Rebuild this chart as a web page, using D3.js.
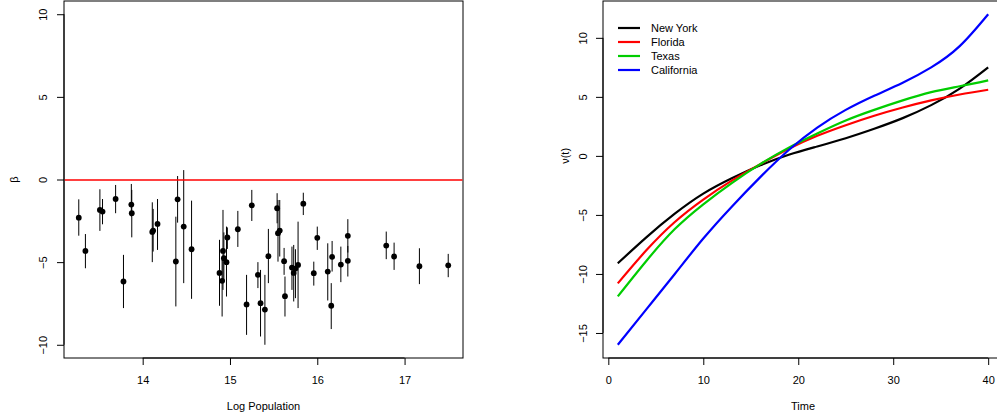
<!DOCTYPE html>
<html><head><meta charset="utf-8">
<script src="https://cdn.jsdelivr.net/npm/d3@7"></script>
<style>body{margin:0;background:#fff}text{font-family:"Liberation Sans",Arial,sans-serif;fill:#000}</style>
</head><body><svg id="c" width="997" height="418"></svg>
<script>
// ---- Left panel data ----
const logPop = [13.268,13.344,13.51,13.54,13.69,13.78,13.87,13.875,14.11,14.12,14.17,14.38,14.40,14.47,14.56,14.88,14.91,14.92,14.93,14.96,14.97,15.09,15.19,15.25,15.32,15.35,15.40,15.44,15.54,15.55,15.57,15.62,15.63,15.71,15.73,15.75,15.78,15.84,15.96,16.0,16.12,16.16,16.17,16.27,16.35,16.35,16.79,16.88,17.17,17.50];
const betaEst = [-2.31,-4.32,-1.84,-1.94,-1.18,-6.17,-1.52,-2.04,-3.17,-3.09,-2.69,-4.96,-1.2,-2.85,-4.22,-5.65,-6.13,-4.32,-4.76,-5.0,-3.51,-3.01,-7.56,-1.56,-5.77,-7.48,-7.87,-4.64,-1.74,-3.25,-3.09,-4.94,-7.06,-5.33,-5.65,-5.39,-5.17,-1.46,-5.67,-3.53,-5.57,-7.64,-4.68,-5.15,-3.41,-4.92,-4.0,-4.66,-5.25,-5.19];
const betaUpper = [-1.2,-3.3,-0.59,-1.18,-0.33,-4.56,-0.27,-0.63,-1.38,-1.78,-1.18,-2.25,0.21,0.57,-1.28,-3.65,-4.86,-1.84,-3.2,-2.85,-2.9,-1.9,-5.77,-0.63,-5.0,-5.47,-5.77,-2.99,-0.83,-1.24,-1.24,-4.14,-5.87,-4.06,-3.96,-4.22,-2.55,-0.8,-4.97,-2.85,-3.86,-6.27,-3.72,-4.06,-2.4,-4.02,-3.15,-3.82,-4.16,-4.5];
const betaLower = [-3.4,-5.37,-3.11,-2.71,-2.04,-7.78,-2.25,-3.5,-5.0,-4.36,-4.26,-7.68,-2.61,-6.27,-7.22,-7.64,-8.29,-6.68,-6.2,-7.08,-4.2,-4.08,-9.4,-2.51,-6.57,-9.5,-10.0,-6.27,-2.65,-4.97,-4.66,-5.77,-8.29,-6.68,-7.38,-7.18,-7.78,-2.15,-6.42,-4.26,-7.32,-9.05,-5.57,-6.21,-4.42,-5.87,-4.82,-5.47,-6.33,-5.91];
const leftXTicks = [14,15,16,17];
const leftYTicks = [-10,-5,0,5,10];

// ---- Right panel data ----
const timePts = [1,4,7,10,13,16,19,22,25,28,31,34,37,40];
const seriesNames = ["New York","Florida","Texas","California"];
const seriesColors = ["#000000","#FF0000","#00CD00","#0000FF"];
const newYork = [-9.1,-6.9,-4.9,-3.2,-1.9,-0.8,0.1,0.8,1.5,2.3,3.2,4.3,5.7,7.5];
const florida = [-10.8,-8.0,-5.6,-3.7,-2.1,-0.7,0.6,1.7,2.6,3.4,4.1,4.7,5.2,5.6];
const texas = [-11.9,-8.9,-6.2,-4.1,-2.3,-0.7,0.7,1.9,3.0,3.9,4.7,5.4,5.9,6.4];
const california = [-16,-13.0,-10.0,-7.0,-4.3,-1.8,0.5,2.4,3.9,5.1,6.2,7.5,9.3,12];
const rightXTicks = [0,10,20,30,40];
const rightYTicks = [-15,-10,-5,0,5,10];

const svg = d3.select("#c");
svg.append("rect").attr("width",997).attr("height",418).attr("fill","#fff");
const FS = 11;
const FF = "Liberation Sans, Arial, sans-serif";
function pad(ext){const r=ext[1]-ext[0];return [ext[0]-0.04*r, ext[1]+0.04*r];}

// ===== Left panel =====
const L = {x0:64,x1:463,y0:1,y1:358};
const xL = d3.scaleLinear().domain(pad(d3.extent(logPop))).range([L.x0,L.x1]);
const yL = d3.scaleLinear().domain(pad([-10,10])).range([L.y1,L.y0]);
const gL = svg.append("g");
// error bars
gL.selectAll("line.eb").data(logPop).join("line").attr("class","eb")
  .attr("x1",(d)=>xL(d)).attr("x2",(d)=>xL(d))
  .attr("y1",(d,i)=>yL(betaUpper[i])).attr("y2",(d,i)=>yL(betaLower[i]))
  .attr("stroke","#000").attr("stroke-width",1);
gL.selectAll("circle.pt").data(logPop).join("circle").attr("class","pt")
  .attr("cx",d=>xL(d)).attr("cy",(d,i)=>yL(betaEst[i])).attr("r",2.9).attr("fill","#000");
// box
gL.append("rect").attr("x",L.x0).attr("y",L.y0).attr("width",L.x1-L.x0).attr("height",L.y1-L.y0).attr("fill","none").attr("stroke","#000").attr("stroke-width",1);
// zero line (drawn on top)
gL.append("path").attr("class","zero")
  .attr("d",`M${L.x0+0.5},${yL(0)+0.5}H${L.x1-0.5}`)
  .style("stroke","rgb(255,0,0)").style("stroke-width","1.3px").style("fill","none");
// x axis
const axLx = gL.append("g").attr("transform",`translate(0,${L.y1})`).call(d3.axisBottom(xL).tickValues(leftXTicks).tickSize(7).tickPadding(11).tickSizeOuter(0).tickFormat(d3.format("d")));
axLx.select(".domain").attr("d",`M${xL(14)},0H${xL(17)}`);
axLx.selectAll("text").attr("font-size",FS).attr("font-family",FF);
// y axis
const axLy = gL.append("g").attr("transform",`translate(${L.x0},0)`).call(d3.axisLeft(yL).tickValues(leftYTicks).tickSize(7).tickSizeOuter(0).tickFormat(d=>d<0?"\u2212"+Math.abs(d):d));
axLy.select(".domain").attr("d",`M0,${yL(-10)}V${yL(10)}`);
axLy.selectAll(".tick text").attr("x",0).attr("text-anchor","middle")
  .attr("transform","translate(-21,0) rotate(-90)").attr("dy","0.35em").attr("font-size",FS).attr("font-family",FF);
gL.append("text").attr("x",(L.x0+L.x1)/2).attr("y",410).attr("text-anchor","middle").attr("font-size",FS).text("Log Population");
gL.append("text").attr("transform",`translate(14,${yL(0)}) rotate(-90)`).attr("text-anchor","middle").attr("dy","0.35em").attr("font-size",FS).text("\u03B2");

// ===== Right panel =====
const R = {x0:603,x1:1003,y0:1,y1:358};
const xR = d3.scaleLinear().domain(pad([1,40])).range([R.x0,R.x1]);
const yR = d3.scaleLinear().domain(pad([d3.min(california),d3.max(california)])).range([R.y1,R.y0]);
const gR = svg.append("g");
const line = d3.line().x((d,i)=>xR(timePts[i])).y(d=>yR(d)).curve(d3.curveNatural);
[newYork,florida,texas,california].forEach((s,k)=>{
  gR.append("path").attr("d",line(s)).attr("fill","none").attr("stroke",seriesColors[k]).attr("stroke-width",2.2);
});
gR.append("rect").attr("x",R.x0).attr("y",R.y0).attr("width",R.x1-R.x0).attr("height",R.y1-R.y0).attr("fill","none").attr("stroke","#000").attr("stroke-width",1);
const axRx = gR.append("g").attr("transform",`translate(0,${R.y1})`).call(d3.axisBottom(xR).tickValues(rightXTicks).tickSize(7).tickPadding(11).tickSizeOuter(0));
axRx.select(".domain").attr("d",`M${xR(0)},0H${xR(40)}`);
axRx.selectAll("text").attr("font-size",FS).attr("font-family",FF);
const axRy = gR.append("g").attr("transform",`translate(${R.x0},0)`).call(d3.axisLeft(yR).tickValues(rightYTicks).tickSize(7).tickSizeOuter(0).tickFormat(d=>d<0?"\u2212"+Math.abs(d):d));
axRy.select(".domain").attr("d",`M0,${yR(-15)}V${yR(10)}`);
axRy.selectAll(".tick text").attr("x",0).attr("text-anchor","middle")
  .attr("transform","translate(-20,0) rotate(-90)").attr("dy","0.35em").attr("font-size",FS).attr("font-family",FF);
gR.append("text").attr("x",(R.x0+R.x1)/2).attr("y",410).attr("text-anchor","middle").attr("font-size",FS).text("Time");
gR.append("text").attr("transform",`translate(565,${yR(0)}) rotate(-90)`).attr("text-anchor","middle").attr("dy","0.35em").attr("font-size",FS).text("\u03BD(t)");
// legend
const lg = gR.append("g");
seriesNames.forEach((n,k)=>{
  const y = 28 + k*14;
  lg.append("line").attr("x1",618).attr("x2",640).attr("y1",y).attr("y2",y).attr("stroke",seriesColors[k]).attr("stroke-width",2.2);
  lg.append("text").attr("x",651).attr("y",y).attr("dy","0.35em").attr("font-size",FS).text(n);
});
</script></body></html>
